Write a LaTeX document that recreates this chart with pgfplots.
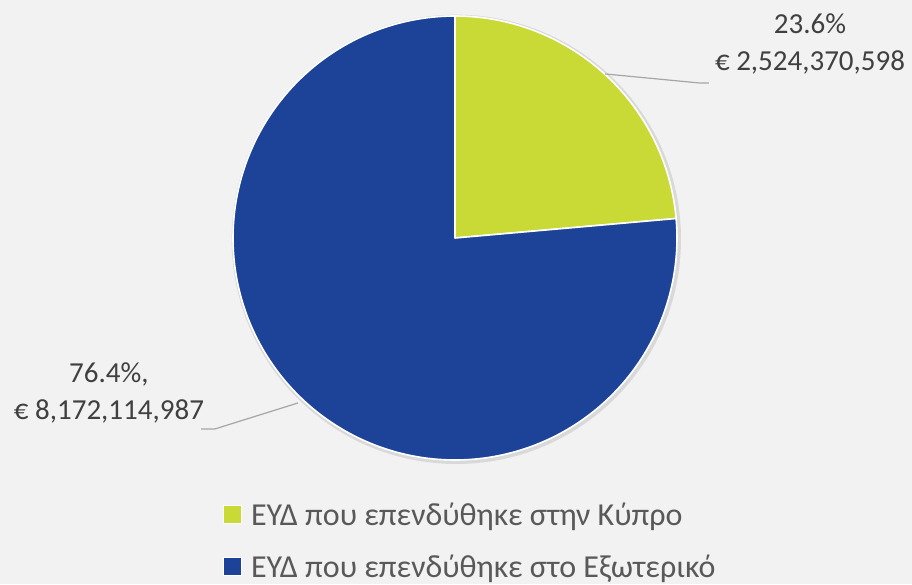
\documentclass[border=0pt]{standalone}
\usepackage{pgfplots}
\pgfplotsset{compat=1.18}
\usepackage{fontspec}
\setmainfont{Carlito}
\definecolor{bg}{HTML}{F2F2F2}
\definecolor{pgreen}{HTML}{C9D935}
\definecolor{pblue}{HTML}{1C4398}
\definecolor{lbl}{HTML}{404040}
\definecolor{leg}{HTML}{595959}
\definecolor{lead}{HTML}{A6A6A6}
% data: percentages
\def\pctA{23.6}
\def\pctB{76.4}
\begin{document}
\begin{tikzpicture}
\fill[bg] (-455pt,-346pt) rectangle (457pt,238pt);
\begin{axis}[
  anchor=origin, at={(0pt,0pt)},
  x=222pt, y=222pt,
  xmin=-1, xmax=1, ymin=-1, ymax=1,
  hide axis, clip=false,
  legend style={at={(axis cs:-1.045,-1.182)}, anchor=north west, draw=none, fill=none,
    font=\fontsize{32}{38}\selectfont\color{leg}, row sep=24pt, inner sep=0pt,
    legend cell align=left,
    /tikz/every odd column/.append style={column sep=7pt}},
]
\fill[black, opacity=0.10] (axis cs:0.006,-0.006) circle[radius=1.012];
\addplot[fill=pgreen, draw=white, line width=1.6pt, line join=round, domain={90-3.6*\pctA}:90, samples=120, forget plot]
  ({cos(x)},{sin(x)}) -- (axis cs:0,0) -- cycle;
\addplot[fill=pblue, draw=white, line width=1.6pt, line join=round, domain=90:{90+3.6*\pctB}, samples=240, forget plot]
  ({cos(x)},{sin(x)}) -- (axis cs:0,0) -- cycle;
\addlegendimage{legend image code/.code={\fill[pgreen, draw=white, line width=0.8pt] (0pt,-9pt) rectangle (18pt,9pt);}}
\addlegendentry{ΕΥΔ που επενδύθηκε στην Κύπρο}
\addlegendimage{legend image code/.code={\fill[pblue, draw=white, line width=0.8pt] (0pt,-9pt) rectangle (18pt,9pt);}}
\addlegendentry{ΕΥΔ που επενδύθηκε στο Εξωτερικό}
\draw[lead, line width=1.2pt] (axis cs:0.676,0.739) -- (axis cs:1.104,0.698) -- (axis cs:1.144,0.698);
\draw[lead, line width=1.2pt] (axis cs:-0.707,-0.743) -- (axis cs:-1.081,-0.860) -- (axis cs:-1.144,-0.860);
\node[font=\fontsize{29}{37}\selectfont, text=lbl, align=center] at (axis cs:1.599,0.875) {23.6\%\\€ 2,524,370,598};
\node[font=\fontsize{29}{37}\selectfont, text=lbl, align=center] at (axis cs:-1.559,-0.696) {76.4\%,\\€ 8,172,114,987};
\end{axis}
\pgfresetboundingbox
\path[use as bounding box] (-455pt,-346pt) rectangle (457pt,238pt);
\end{tikzpicture}
\end{document}
